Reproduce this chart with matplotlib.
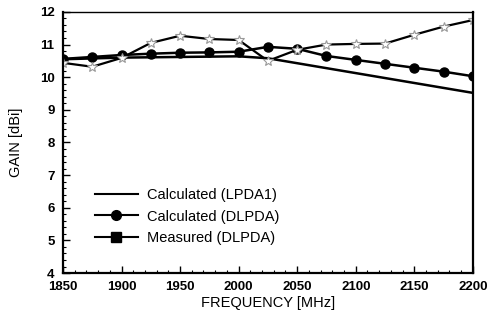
import numpy as np
import matplotlib.pyplot as plt
from matplotlib.lines import Line2D
from matplotlib.ticker import MultipleLocator

plt.rcParams['font.family'] = ['Liberation Sans', 'DejaVu Sans']

# data
freq_lpda = [1850, 1900, 1950, 2000, 2025, 2200]
gain_lpda = [10.55, 10.60, 10.62, 10.64, 10.58, 9.52]

freq = [1850, 1875, 1900, 1925, 1950, 1975, 2000, 2025, 2050, 2075,
        2100, 2125, 2150, 2175, 2200]
gain_dlpda = [10.56, 10.62, 10.68, 10.72, 10.75, 10.76, 10.78, 10.93, 10.87,
              10.65, 10.53, 10.41, 10.29, 10.17, 10.03]
gain_meas = [10.44, 10.32, 10.59, 11.05, 11.27, 11.17, 11.14, 10.50, 10.84,
             11.00, 11.02, 11.03, 11.30, 11.55, 11.75]

fig = plt.figure(figsize=(4.88, 3.22), dpi=100)
ax = fig.add_axes([0.129, 0.152, 0.84, 0.811])

ax.plot(freq_lpda, gain_lpda, color='black', lw=1.8)
ax.plot(freq, gain_dlpda, color='black', lw=1.8, marker='o', ms=6.5)
ax.plot(freq, gain_meas, color='black', lw=1.6, marker='*', ms=7,
        mfc='white', mec='#999999', mew=0.8)

ax.set_xlim(1850, 2200)
ax.set_ylim(4, 12)
ax.xaxis.set_major_locator(MultipleLocator(50))
ax.xaxis.set_minor_locator(MultipleLocator(10))
ax.yaxis.set_major_locator(MultipleLocator(1))
ax.yaxis.set_minor_locator(MultipleLocator(0.2))
ax.tick_params(which='both', direction='in', top=False, right=False)
ax.tick_params(which='major', length=5, width=1, labelsize=9.5)
ax.tick_params(axis='x', which='major', pad=6)
ax.tick_params(axis='y', which='major', pad=6)
ax.tick_params(which='minor', length=2.5, width=0.8)
for lab in ax.get_xticklabels() + ax.get_yticklabels():
    lab.set_fontweight('bold')
for s in ['left', 'bottom', 'right']:
    ax.spines[s].set_linewidth(1.6)
ax.spines['top'].set_linewidth(1.0)

ax.set_xlabel('FREQUENCY [MHz]', fontsize=10.5, labelpad=2)
ax.set_ylabel('GAIN [dBi]', fontsize=10.5, labelpad=12)

handles = [
    Line2D([], [], color='black', lw=1.5),
    Line2D([], [], color='black', lw=1.5, marker='o', ms=7),
    Line2D([], [], color='black', lw=1.5, marker='s', ms=7),
]
labels = ['Calculated (LPDA1)', 'Calculated (DLPDA)', 'Measured (DLPDA)']
ax.legend(handles, labels, loc='upper left', bbox_to_anchor=(0.045, 0.375),
          frameon=False, fontsize=10.5, handlelength=3.0, handletextpad=0.6,
          labelspacing=0.5)

fig.savefig('out.png', dpi=100)
